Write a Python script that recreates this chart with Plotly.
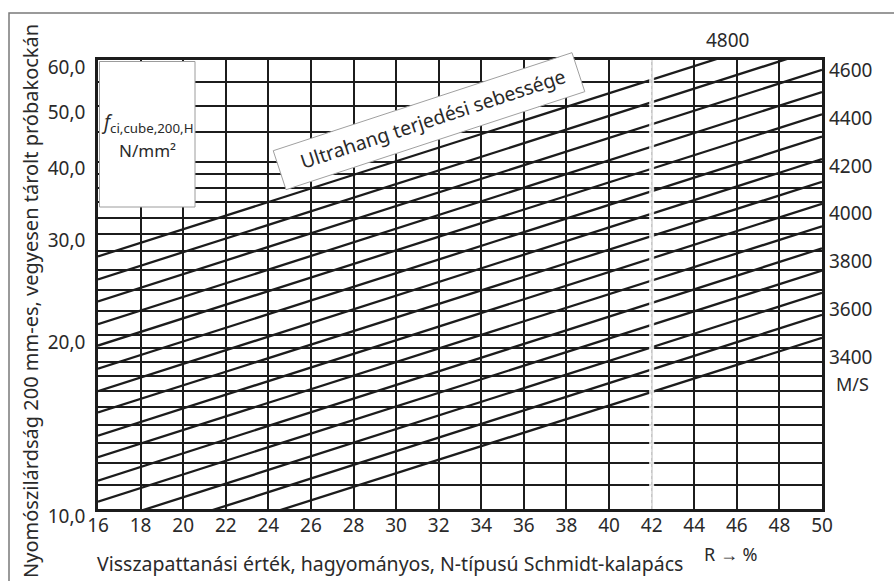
import math
import numpy as np
import plotly.graph_objects as go

# Ultrasonic pulse velocity lines (m/s) and the strength each line gives
# at the two ends of the rebound scale (R = 16 and R = 50)
velocity = [4800, 4700, 4600, 4500, 4400, 4300, 4200, 4100,
            4000, 3900, 3800, 3700, 3600, 3500, 3400]
strength_r16 = [27.4, 25.0, 22.9, 20.9, 19.2, 17.5, 16.0, 14.7,
                13.4, 12.3, 11.2, 10.3, 9.4, 8.6, 7.9]
strength_r50 = [68.9, 63.0, 57.7, 52.8, 48.3, 44.2, 40.4, 36.9,
                33.8, 30.9, 28.3, 25.9, 23.7, 21.7, 19.8]
rebound_ends = [16, 50]

# Grid / tick values
x_ticks = list(range(16, 51, 2))
y_grid = list(range(10, 21)) + list(range(22, 41, 2)) + [45, 50, 55, 60]
y_labelled = {10: "10,0", 20: "20,0", 30: "30,0", 40: "40,0", 50: "50,0", 60: "60,0"}
right_labels = [4600, 4400, 4200, 4000, 3800, 3600, 3400]
top_label = 4800

FONT = "Noto Sans"
INK = "#1c1c1c"
TXT = "#2a2a2a"

W, H = 894, 581
L, R, T, B = 98, 822, 60, 509


def px_x(px):
    return (px - L) / (R - L)


def px_y(py):
    return (B - py) / (B - T)


fig = go.Figure()

for v, f0, f1 in zip(velocity, strength_r16, strength_r50):
    fig.add_trace(go.Scatter(
        x=rebound_ends, y=[f0, f1], mode="lines",
        line=dict(color=INK, width=2.3),
        hoverinfo="skip", showlegend=False, name=f"{v} m/s",
    ))

shapes = []

# faint, broken column at R = 42
shapes.append(dict(type="line", xref="x", yref="paper", x0=42, x1=42, y0=0, y1=1,
                   line=dict(color="white", width=5), opacity=0.85, layer="above"))
shapes.append(dict(type="line", xref="x", yref="paper", x0=42, x1=42, y0=0, y1=1,
                   line=dict(color="#c4c4c4", width=1, dash="dot"), layer="above"))

# white unit box in the upper-left corner
shapes.append(dict(type="rect", xref="paper", yref="paper",
                   x0=px_x(99.5), x1=px_x(195), y0=px_y(207), y1=px_y(61.5),
                   fillcolor="white", line=dict(color="#9c9c9c", width=1), layer="above"))

# rotated label strip for the velocity caption
b0 = np.array([307.0, 167.0])
b1 = np.array([563.0, 83.0])
u = (b1 - b0) / np.linalg.norm(b1 - b0)
n = np.array([-u[1], u[0]])  # points downward on screen
blen = np.linalg.norm(b1 - b0)
corners = [b0 + s * u + t * n for s, t in
           [(-27, -26), (blen + 18, -26), (blen + 18, 15), (-27, 15)]]
path = "M " + " L ".join(f"{px_x(p[0]):.5f},{px_y(p[1]):.5f}" for p in corners) + " Z"
shapes.append(dict(type="path", xref="paper", yref="paper", path=path,
                   fillcolor="white", line=dict(color="#a0a0a0", width=1), layer="above"))

# outer frame
shapes.append(dict(type="rect", xref="paper", yref="paper",
                   x0=px_x(9), x1=px_x(905), y0=px_y(595), y1=px_y(13),
                   fillcolor="rgba(0,0,0,0)", line=dict(color="#7a7a7a", width=1.5),
                   layer="above"))

annotations = []


def note(x, y, text, size, **kw):
    d = dict(xref="paper", yref="paper", x=x, y=y, text=text, showarrow=False,
             xanchor="center", yanchor="middle",
             font=dict(family=FONT, size=size, color=TXT))
    d.update(kw)
    annotations.append(d)


# caption along the velocity lines
angle = math.degrees(math.atan2(b1[1] - b0[1], b1[0] - b0[0]))
mid = (b0 + b1) / 2 - 7 * n
note(px_x(mid[0]), px_y(mid[1]), "Ultrahang terjedési sebessége", 19.5, textangle=angle)

# unit box text
note(px_x(147), px_y(123), "<i>f</i><sub>ci,cube,200,H</sub>", 19)
note(px_x(147), px_y(151), "N/mm²", 17)

# velocity labels at the right-hand ends of the lines
for i, v in enumerate(right_labels):
    f_end = strength_r50[velocity.index(v)]
    note(50, math.log10(f_end), str(v), 19, xref="x", yref="y", xanchor="left",
         xshift=5, yshift=-3.2 * i)
note(50, math.log10(strength_r50[velocity.index(right_labels[-1])]), "M/S", 18,
     xref="x", yref="y", xanchor="left", xshift=12,
     yshift=-3.2 * (len(right_labels) - 1) - 27)

# 4800 label where that line leaves the top of the grid
k = velocity.index(top_label)
l0, l1 = math.log10(strength_r16[k]), math.log10(strength_r50[k])
r_top = 16 + (math.log10(60) - l0) / (l1 - l0) * 34
note(r_top, 1, str(top_label), 19, xref="x", xshift=14, yshift=20)

# axis titles
note(px_x(30), px_y(301), "Nyomószilárdság 200 mm-es, vegyesen tárolt próbakockán", 20,
     textangle=-90)
note(px_x(95), px_y(563), "Visszapattanási érték, hagyományos, N-típusú Schmidt-kalapács",
     19.5, xanchor="left")
note(px_x(731), px_y(554), "R → %", 18)

fig.update_layout(
    width=W, height=H,
    margin=dict(l=L, r=W - R, t=T, b=H - B, pad=0),
    paper_bgcolor="white", plot_bgcolor="white",
    shapes=shapes, annotations=annotations,
    showlegend=False,
)

fig.update_xaxes(
    range=[16, 50], tickvals=x_ticks, ticktext=[str(t) for t in x_ticks],
    showgrid=True, gridcolor=INK, gridwidth=1.8,
    showline=True, linecolor=INK, linewidth=2.5, mirror=True,
    ticks="", ticklabelstandoff=-3, zeroline=False,
    tickfont=dict(family=FONT, size=19, color=TXT),
)
fig.update_yaxes(
    type="log", range=[1, math.log10(60)],
    tickvals=y_grid, ticktext=[y_labelled.get(v, "") for v in y_grid],
    showgrid=True, gridcolor=INK, gridwidth=1.8,
    showline=True, linecolor=INK, linewidth=2.5, mirror=True,
    ticks="", ticklabelshift=7, ticklabelstandoff=6, zeroline=False,
    tickfont=dict(family=FONT, size=19, color=TXT),
)

fig.write_html("out.html")
